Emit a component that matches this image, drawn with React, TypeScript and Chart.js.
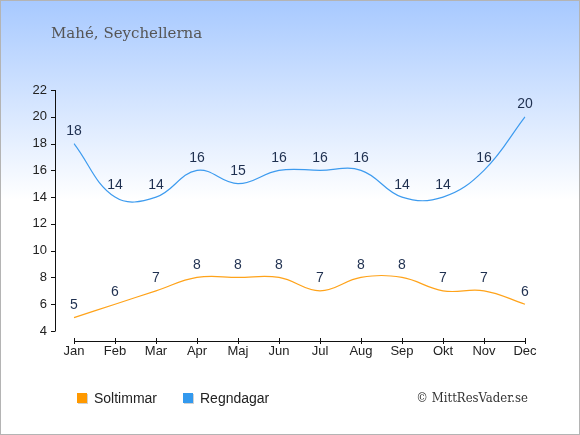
import React, { useEffect, useRef } from 'react';
import { Chart, registerables } from 'chart.js';

Chart.register(...registerables);

const months = ['Jan', 'Feb', 'Mar', 'Apr', 'Maj', 'Jun', 'Jul', 'Aug', 'Sep', 'Okt', 'Nov', 'Dec'];
const soltimmar = [5, 6, 7, 8, 8, 8, 7, 8, 8, 7, 7, 6];
const regndagar = [18, 14, 14, 16, 15, 16, 16, 16, 14, 14, 16, 20];
const seriesNames = ['Soltimmar', 'Regndagar'];
const seriesColors = ['#ffa31a', '#3d9bef'];
const boxColors = ['#ff9900', '#3399ee'];
const title = 'Mahé, Seychellerna';
const credit = '© MittResVader.se';

const sansFont = '"Liberation Sans", Arial, sans-serif';
const titleFont = '"DejaVu Serif", Georgia, serif';
const creditFont = '"DejaVu Serif Condensed", "DejaVu Serif", serif';

// axis lines, value labels, legend and texts
const decorations = {
  id: 'decorations',
  afterDatasetsDraw(chart: any) {
    const { ctx, chartArea } = chart;
    const x = chart.scales.x;
    const y = chart.scales.y;
    ctx.save();

    // y axis, set off from the plot
    const axX = chartArea.left - 19;
    ctx.strokeStyle = '#111';
    ctx.lineWidth = 1;
    ctx.beginPath();
    ctx.moveTo(axX + 0.5, y.getPixelForValue(22));
    ctx.lineTo(axX + 0.5, y.getPixelForValue(4));
    y.ticks.forEach((t: any) => {
      const py = Math.round(y.getPixelForValue(t.value)) + 0.5;
      ctx.moveTo(axX - 4, py);
      ctx.lineTo(axX + 0.5, py);
    });
    ctx.stroke();

    // x axis below the plot
    const axY = chartArea.bottom + 10;
    ctx.beginPath();
    ctx.moveTo(x.getPixelForValue(0), axY + 0.5);
    ctx.lineTo(x.getPixelForValue(months.length - 1), axY + 0.5);
    months.forEach((_, i) => {
      const px = Math.round(x.getPixelForValue(i)) + 0.5;
      ctx.moveTo(px, axY - 3);
      ctx.lineTo(px, axY + 3);
    });
    ctx.stroke();

    // value labels
    ctx.font = `14px ${sansFont}`;
    ctx.fillStyle = '#1f3050';
    ctx.textAlign = 'center';
    ctx.textBaseline = 'alphabetic';
    chart.data.datasets.forEach((ds: any, di: number) => {
      const meta = chart.getDatasetMeta(di);
      meta.data.forEach((pt: any, i: number) => {
        ctx.fillText(String(ds.data[i]), pt.x, pt.y - 8.5);
      });
    });

    // title
    ctx.textAlign = 'left';
    ctx.font = `15px ${titleFont}`;
    ctx.fillStyle = '#555';
    ctx.fillText(title, 51, 38);

    // legend
    const legendX = [77, 183];
    ctx.font = `14px ${sansFont}`;
    chart.data.datasets.forEach((ds: any, di: number) => {
      const lx = legendX[di];
      ctx.fillStyle = 'rgba(0,0,0,0.18)';
      ctx.fillRect(lx + 1, 394, 10, 10);
      ctx.fillStyle = boxColors[di];
      ctx.fillRect(lx, 393, 10, 10);
      ctx.fillStyle = '#222';
      ctx.fillText(ds.label, lx + 17, 403);
    });

    // credit
    ctx.textAlign = 'right';
    ctx.font = `13px ${creditFont}`;
    ctx.fillStyle = '#333';
    ctx.fillText(credit, 528, 402);

    ctx.restore();
  },
};

export default function App() {
  const canvasRef = useRef<HTMLCanvasElement>(null);
  const chartRef = useRef<Chart | null>(null);

  useEffect(() => {
    document.body.style.margin = '0';
    if (!canvasRef.current) return;
    if (chartRef.current) chartRef.current.destroy();

    chartRef.current = new Chart(canvasRef.current, {
      type: 'line',
      data: {
        labels: months,
        datasets: [soltimmar, regndagar].map((values, i) => ({
          label: seriesNames[i],
          data: values,
          borderColor: seriesColors[i],
          backgroundColor: seriesColors[i],
          borderWidth: 1.2,
          pointRadius: 0,
          tension: 0.4,
          fill: false,
        })),
      },
      options: {
        responsive: false,
        animation: false,
        layout: { padding: { left: 33, right: 55, top: 90, bottom: 75 } },
        plugins: {
          legend: { display: false },
          title: { display: false },
          tooltip: { enabled: false },
        },
        scales: {
          x: {
            offset: false,
            grid: { display: false, drawTicks: false },
            border: { display: false },
            ticks: {
              padding: 13,
              maxRotation: 0,
              autoSkip: false,
              color: '#222',
              font: { family: sansFont, size: 13 },
            },
            afterFit: (s: any) => {
              s.height = 29;
            },
          },
          y: {
            min: 4,
            max: 22,
            grid: { display: false, drawTicks: false },
            border: { display: false },
            ticks: {
              stepSize: 2,
              padding: 27,
              color: '#222',
              font: { family: sansFont, size: 13 },
            },
            afterFit: (s: any) => {
              s.width = 41;
            },
          },
        },
      },
      plugins: [decorations],
    });

    return () => {
      if (chartRef.current) {
        chartRef.current.destroy();
        chartRef.current = null;
      }
    };
  }, []);

  return (
    <div
      style={{
        position: 'relative',
        width: 580,
        height: 435,
        background: 'linear-gradient(to bottom, #a7c9ff 0%, #ffffff 46%, #ffffff 100%)',
        boxShadow: 'inset 0 0 0 1px #b4b4b4',
      }}
    >
      <canvas ref={canvasRef} width={580} height={435} style={{ display: 'block' }} />
    </div>
  );
}
